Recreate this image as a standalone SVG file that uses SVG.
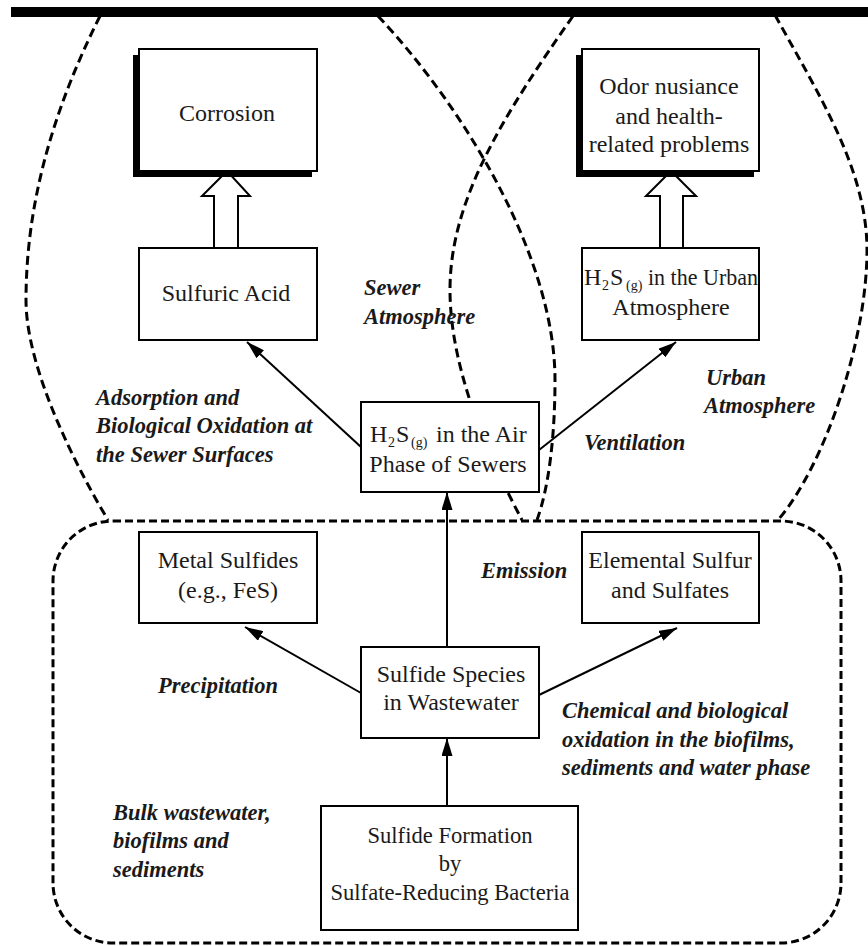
<svg xmlns="http://www.w3.org/2000/svg" width="868" height="946" viewBox="0 0 868 946">
<defs>
<style>
.box{fill:#fff;stroke:#000;stroke-width:2}
.shadow{fill:#000}
.t{font-family:"Liberation Serif","Times New Roman",serif;font-size:24px;fill:#1a1a1a;text-anchor:middle}
.s{font-family:"Liberation Serif","Times New Roman",serif;font-size:24px;fill:#1a1a1a}
.f{font-size:22.6px}
.lbl{font-family:"Liberation Serif","Times New Roman",serif;font-size:22.5px;font-weight:bold;font-style:italic;fill:#1a1a1a}
.sub{font-size:14px}
.arc{fill:none;stroke:#000;stroke-width:3;stroke-dasharray:9 5}
.zone{fill:none;stroke:#000;stroke-width:3;stroke-dasharray:8 4}
.conn{fill:none;stroke:#000;stroke-width:2;marker-end:url(#ah)}
.hollow{fill:#fff;stroke:#000;stroke-width:2;stroke-linejoin:miter}
</style>
<marker id="ah" markerUnits="userSpaceOnUse" markerWidth="18" markerHeight="11" refX="18" refY="5.5" orient="auto">
<path d="M0,0 L18,5.5 L0,11 z" fill="#000"/>
</marker>
</defs>
<rect width="868" height="946" fill="#fff"/>

<g id="regions">
<path id="sewer-left" class="arc" d="M100,16 C55,106 26,200 26,300 C26,370 78,470 108,520"/>
<path id="sewer-right" class="arc" d="M378,16 C468,112 555,260 555,380 C555,440 548,490 537,520"/>
<path id="urban-left" class="arc" d="M573,16 C503,116 450,200 450,290 C450,370 490,460 522,520"/>
<path id="urban-right" class="arc" d="M775,15 C819,95 867,170 867,250 C867,340 825,465 778,520"/>
<rect id="wastewater-zone" class="zone" x="53" y="521" width="788" height="422" rx="60" ry="60"/>
<rect id="top-bar" x="11" y="7" width="857" height="10" fill="#000"/>
</g>

<g id="connectors">
<polygon class="hollow" points="227,171 250,196 238,196 238,248 214,248 214,196 202,196"/>
<polygon class="hollow" points="671,171 696,196 683,196 683,248 660,248 660,196 646,196"/>
<line class="conn" x1="361" y1="447" x2="247" y2="342"/>
<line class="conn" x1="539" y1="450" x2="676" y2="342"/>
<line class="conn" x1="447" y1="647" x2="447" y2="492"/>
<line class="conn" x1="361" y1="693" x2="245" y2="627"/>
<line class="conn" x1="539" y1="695" x2="677" y2="628"/>
<line class="conn" x1="447" y1="806" x2="447" y2="738"/>
</g>

<g id="corrosion">
<rect class="shadow" x="133" y="55" width="179" height="122"/>
<rect class="box" x="139" y="49" width="178" height="122"/>
<text class="t" x="227" y="121">Corrosion</text>
</g>

<g id="odor">
<rect class="shadow" x="576" y="55" width="178" height="122"/>
<rect class="box" x="582" y="49" width="177" height="122"/>
<text class="t" x="669" y="94">Odor nusiance</text>
<text class="t" x="669" y="124">and health-</text>
<text class="t" x="669" y="152">related problems</text>
</g>

<g id="sulfuric-acid">
<rect class="box" x="139" y="248" width="178" height="92"/>
<text class="t" x="226" y="301">Sulfuric Acid</text>
</g>

<g id="h2s-urban">
<rect class="box" x="582" y="248" width="177" height="92"/>
<text class="s" x="584" y="285">H</text>
<text class="s sub" x="602" y="290">2</text>
<text class="s" x="610" y="285">S</text>
<text class="s sub" x="626" y="290">(g)</text>
<text class="s" x="648" y="285" font-size="22" textLength="110" lengthAdjust="spacingAndGlyphs">in the Urban</text>
<text class="t" x="671" y="315">Atmosphere</text>
</g>

<g id="h2s-air">
<rect class="box" x="361" y="402" width="178" height="90"/>
<text class="s" x="370" y="442">H</text>
<text class="s sub" x="388" y="447">2</text>
<text class="s" x="396" y="442">S</text>
<text class="s sub" x="411" y="447">(g)</text>
<text class="s" x="436" y="442">in the Air</text>
<text class="t" x="448" y="472">Phase of Sewers</text>
</g>

<g id="metal-sulfides">
<rect class="box" x="139" y="532" width="178" height="91"/>
<text class="t" x="228" y="568">Metal Sulfides</text>
<text class="t" x="228" y="598">(e.g., FeS)</text>
</g>

<g id="elemental-sulfur">
<rect class="box" x="582" y="532" width="177" height="91"/>
<text class="t" x="670" y="568">Elemental Sulfur</text>
<text class="t" x="670" y="598">and Sulfates</text>
</g>

<g id="sulfide-species">
<rect class="box" x="361" y="647" width="178" height="91"/>
<text class="t" x="451" y="682">Sulfide Species</text>
<text class="t" x="451" y="710">in Wastewater</text>
</g>

<g id="sulfide-formation">
<rect class="box" x="321" y="806" width="257" height="124"/>
<text class="t f" x="450" y="843">Sulfide Formation</text>
<text class="t f" x="450" y="871">by</text>
<text class="t f" x="450" y="900">Sulfate-Reducing Bacteria</text>
</g>

<g id="labels">
<text class="lbl" x="364" y="295">Sewer</text>
<text class="lbl" x="364" y="324">Atmosphere</text>
<text class="lbl" x="96" y="405">Adsorption and</text>
<text class="lbl" x="96" y="433">Biological Oxidation at</text>
<text class="lbl" x="96" y="462">the Sewer Surfaces</text>
<text class="lbl" x="706" y="385">Urban</text>
<text class="lbl" x="704" y="413">Atmosphere</text>
<text class="lbl" x="584" y="450">Ventilation</text>
<text class="lbl" x="481" y="578">Emission</text>
<text class="lbl" x="158" y="693">Precipitation</text>
<text class="lbl" x="562" y="718">Chemical and biological</text>
<text class="lbl" x="562" y="747">oxidation in the biofilms,</text>
<text class="lbl" x="562" y="775">sediments and water phase</text>
<text class="lbl" x="113" y="820">Bulk wastewater,</text>
<text class="lbl" x="113" y="848">biofilms and</text>
<text class="lbl" x="113" y="877">sediments</text>
</g>
</svg>
